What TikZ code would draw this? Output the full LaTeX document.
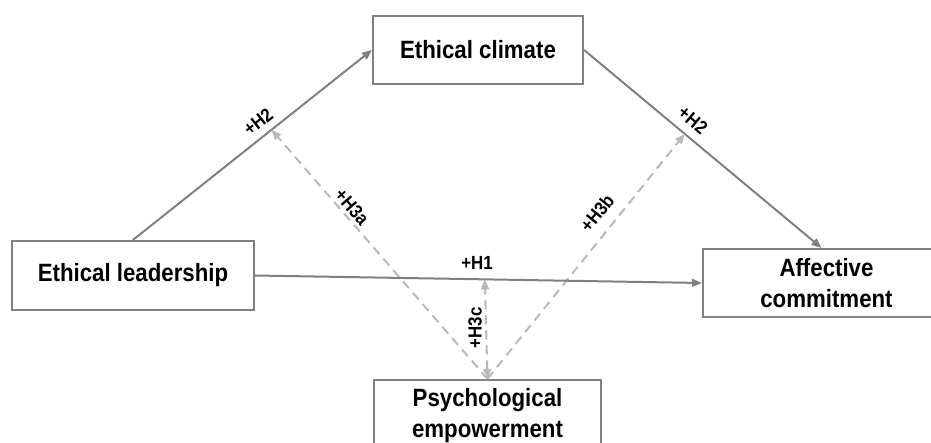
\documentclass[tikz,border=0pt]{standalone}
\usepackage{fontspec}
\setmainfont{Liberation Sans}[FakeStretch=0.89]
\usetikzlibrary{arrows.meta,calc}
\definecolor{lg}{RGB}{128,128,128}
\definecolor{dg}{RGB}{185,185,185}
\begin{document}
\begin{tikzpicture}[x=1pt,y=-1pt,
 box/.style={draw=lg, line width=2.2pt, fill=white, inner sep=0pt, align=center, font=\fontsize{25}{31}\selectfont\bfseries},
 solidarrow/.style={draw=lg, line width=2pt, -{Triangle[length=10pt,width=8pt]}},
 dasharrow/.style={draw=dg, line width=2pt, dash pattern=on 9pt off 6pt, -{Triangle[length=10pt,width=8pt]}},
 lab/.style={font=\fontsize{19}{22}\selectfont\bfseries, inner sep=0pt}]
\useasboundingbox (0,0) rectangle (931,443);
\clip (0,0) rectangle (931,443);
\node[box, minimum width=210pt, minimum height=68pt] (EC) at (478,50) {Ethical climate};
\node[box, minimum width=242pt, minimum height=69pt] (EL) at (133,275.5) {Ethical leadership};
\node[box, minimum width=247pt, minimum height=68pt] (AC) at (826.5,283) {Affective\\commitment};
\node[box, minimum width=227pt, minimum height=71pt] (PE) at (487.5,415.5) {Psychological\\empowerment};
\coordinate (ACn) at ([xshift=-5pt]AC.north);
\coordinate (M1) at ($(EL.north)!0.58!(EC.west)$);
\coordinate (M2) at ($(EC.east)!0.424!(ACn)$);
\coordinate (M3) at ($(EL.east)!0.514!(AC.west)$);
\draw[solidarrow] (EL.north) -- (EC.west);
\draw[solidarrow] (EC.east) -- (ACn);
\draw[dasharrow] (PE.north) -- (M1);
\draw[dasharrow] (PE.north) -- (M2);
\draw[dasharrow, {Triangle[length=10pt,width=8pt]}-{Triangle[length=10pt,width=8pt]}] (PE.north) -- (M3);
\draw[solidarrow] (EL.east) -- (AC.west);
\node[lab, rotate=38.5] (l1) at (258,122) {+H2};
\node[lab, rotate=-40] (l2) at (693,120) {+H2};
\node[lab, rotate=-49] (l3) at (352,207) {+H3a};
\node[lab, rotate=51] (l4) at (597,213) {+H3b};
\node[lab] (l5) at (477,263) {+H1};
\node[lab, rotate=90] (l6) at (475,328) {+H3c};
\end{tikzpicture}
\end{document}
